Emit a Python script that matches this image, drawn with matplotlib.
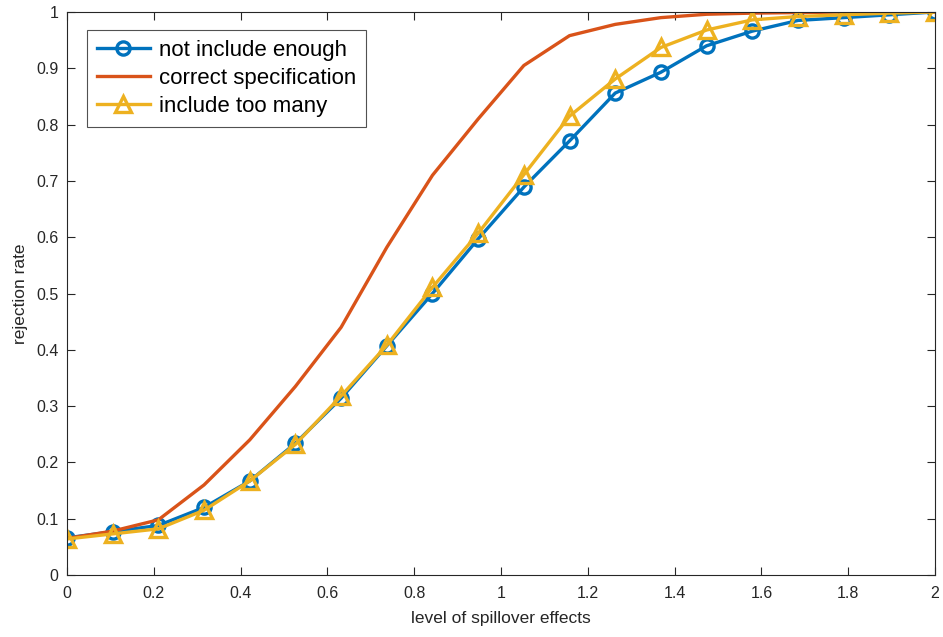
import numpy as np
import matplotlib
matplotlib.use("Agg")
import matplotlib.pyplot as plt

plt.rcParams['font.family'] = ['Liberation Sans', 'DejaVu Sans']

x = np.linspace(0, 2, 20)
not_enough = [0.066, 0.077, 0.088, 0.120, 0.167, 0.234, 0.314, 0.407, 0.500, 0.597,
              0.689, 0.771, 0.856, 0.893, 0.940, 0.966, 0.985, 0.990, 0.995, 1.000]
correct = [0.065, 0.078, 0.098, 0.160, 0.240, 0.335, 0.440, 0.582, 0.710, 0.810,
           0.905, 0.958, 0.978, 0.990, 0.996, 0.998, 0.999, 1.000, 1.000, 1.000]
too_many = [0.064, 0.073, 0.082, 0.115, 0.167, 0.232, 0.318, 0.408, 0.511, 0.607,
            0.711, 0.815, 0.881, 0.937, 0.968, 0.986, 0.992, 0.995, 0.998, 1.000]

fig = plt.figure(figsize=(9.43, 6.37), dpi=100)
ax = fig.add_axes([67/943, 1 - 575/637, (935-67)/943, (575-12)/637])

ax.plot(x, not_enough, color='#0072BD', lw=2.4, marker='o', ms=9.5, mfc='none', mew=2.4,
        label='not include enough')
ax.plot(x, correct, color='#D95319', lw=2.4, label='correct specification')
ax.plot(x, too_many, color='#EDB120', lw=2.4, marker='^', ms=11, mfc='none', mew=2.4,
        label='include too many')

ax.set_xlim(0, 2)
ax.set_ylim(0, 1)
ax.set_xticks(np.arange(0, 2.01, 0.2))
ax.set_xticklabels(['0', '0.2', '0.4', '0.6', '0.8', '1', '1.2', '1.4', '1.6', '1.8', '2'])
ax.set_yticks(np.arange(0, 1.01, 0.1))
ax.set_yticklabels(['0', '0.1', '0.2', '0.3', '0.4', '0.5', '0.6', '0.7', '0.8', '0.9', '1'])
ax.tick_params(direction='in', top=True, right=True, labelsize=11.5, colors='#262626',
               length=6, width=0.8)
ax.tick_params(axis='x', pad=8)
ax.tick_params(axis='y', pad=6)
for s in ax.spines.values():
    s.set_color('#262626')
    s.set_linewidth(0.8)
ax.set_xlabel('level of spillover effects', fontsize=12.5, color='#262626', labelpad=7)
ax.set_ylabel('rejection rate', fontsize=12.5, color='#262626', labelpad=6)

leg = ax.legend(loc='upper left', bbox_to_anchor=(0.0225, 0.968), fontsize=16,
                frameon=True, fancybox=False, edgecolor='#262626', handlelength=2.4,
                borderpad=0.45, labelspacing=0.32, handletextpad=0.4, borderaxespad=0)
leg.get_frame().set_linewidth(0.8)

fig.savefig('out.png', dpi=100)
